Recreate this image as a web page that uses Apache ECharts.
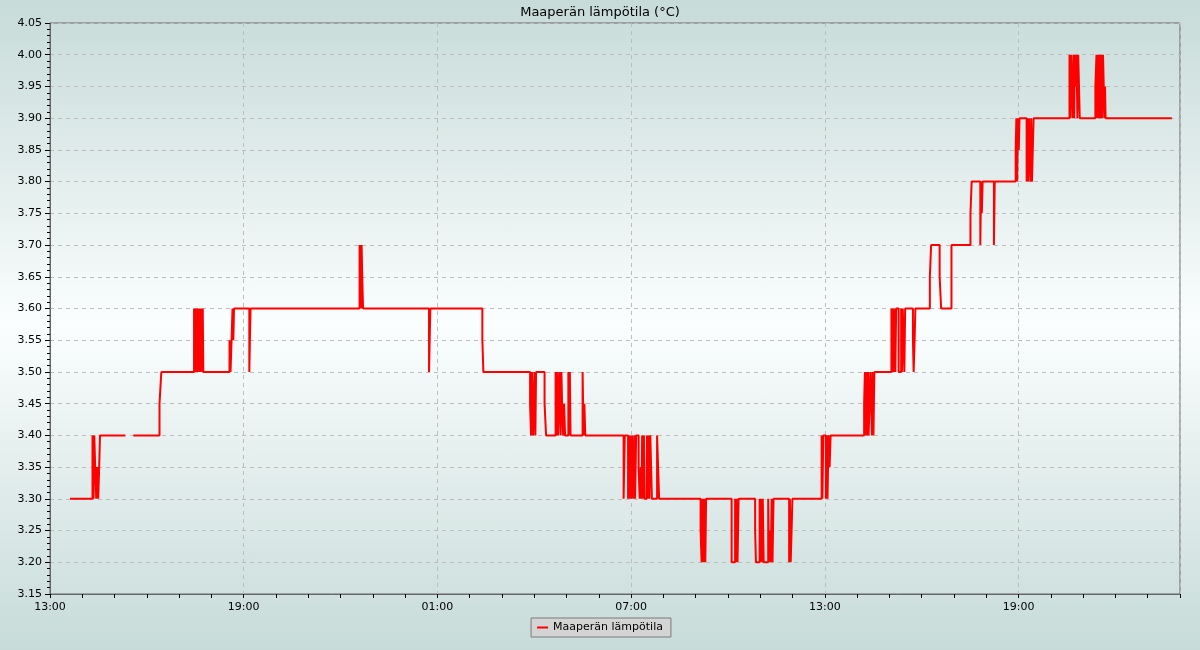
<!DOCTYPE html>
<html>
<head>
<meta charset="utf-8">
<script src="https://cdn.jsdelivr.net/npm/echarts@6/dist/echarts.min.js"></script>
<style>
html,body{margin:0;padding:0;}
#chart{width:1200px;height:650px;background:linear-gradient(to bottom,#c7dbd8 0%,#e3eeed 28%,#fbfefe 50%,#e3eeed 72%,#c7dbd8 100%);}
</style>
</head>
<body>
<div id="chart"></div>
<script>
// Time in minutes from 13:00 (day 1); step values in °C (null = missing data)
const startHour = 13;
const minutes = [
37.2,79.0,80.9,82.3,84.0,85.9,87.7,89.6,91.4,92.9,138.5,140,154.8,203.5,206.9,
267.7,268.6,269.5,270.4,271.3,272.2,273.1,274.0,274.9,275.8,276.7,277.6,278.5,279.4,280.3,281.2,282.1,283.0,283.9,284.9,
333.6,335.5,337.4,339.2,340.7,342.0,370.4,372.7,
575.3,576.3,577.2,578.2,579.1,580.3,581.8,704.4,706.8,803.5,805.4,
892.2,894.0,895.9,897.8,900.5,902.0,903.3,919.1,921.9,
939.6,941.4,942.9,944.2,947.0,948.9,950.4,951.7,953.5,955.4,957.2,
963.3,964.6,966.1,967.4,989.8,991.6,993.1,994.8,
1066.0,1068.2,1074.3,1075.8,1077.3,1078.8,1080.3,1081.8,1084.2,1085.9,1087.4,1089.3,
1093.9,1095.8,1098.1,1099.4,1100.4,1102.2,1103.7,1105.2,1109.3,1110.7,1112.4,1113.9,
1115.6,1117.1,1118.6,1128.2,1130.1,1132.0,
1209.1,1210.9,1212.8,1214.3,1216.1,1217.8,1219.3,
1266.7,1273.2,1274.7,1276.2,1277.7,1279.7,
1310.4,1311.9,1318.8,1320.3,1321.6,1323.1,1324.6,1326.3,
1334.7,1336.2,1337.7,1339.4,1341.2,1342.7,1344.6,
1373.6,1375.0,1376.5,1378.2,1379.7,
1434.0,1435.4,1437.1,1441.9,1443.4,1444.9,1446.9,1448.8,1450.7,
1513.0,1514.4,1515.9,1517.4,1518.9,1520.4,1521.3,1524.7,1526.0,1527.5,1528.8,1530.3,1532.0,
1563.7,1565.0,1566.5,1568.0,1569.5,1571.0,1572.5,1577.1,1581.8,1583.3,1584.8,1586.2,1587.7,1589.2,
1603.7,1605.0,1606.8,1608.2,
1635.1,1637.5,1653.3,1656.1,1675.3,1710.6,1712.8,
1728.9,1730.4,1731.7,1733.2,1754.2,1755.7,
1794.6,1795.9,1797.4,1798.9,1800.4,1801.7,
1815.0,1816.5,1817.8,1819.3,1820.6,1822.1,1823.4,1824.9,1826.4,1827.9,
1894.6,1895.9,1897.4,1898.9,1900.4,1901.8,1903.3,1904.4,1906.1,1907.6,1909.3,1910.8,1912.3,1913.7,
1942.7,1944.8,1946.4,1947.9,1949.4,1950.9,1952.2,1954.1,1955.5,1956.9,1958.3,1959.8,1960.7,1961.7,
2084.9
];
const temps = [
3.30,3.40,3.30,3.40,3.35,3.30,3.35,3.30,3.35,3.40,3.40,null,3.40,3.45,3.50,
3.60,3.50,3.60,3.50,3.60,3.50,3.60,3.50,3.60,3.50,3.60,3.50,3.60,3.50,3.60,3.50,3.60,3.50,3.60,3.50,
3.55,3.50,3.55,3.60,3.55,3.60,3.50,3.60,
3.70,3.60,3.70,3.60,3.70,3.65,3.60,3.50,3.60,3.55,3.50,
3.45,3.40,3.50,3.40,3.50,3.40,3.50,3.45,3.40,
3.50,3.40,3.50,3.40,3.50,3.40,3.50,3.45,3.40,3.45,3.40,
3.50,3.40,3.50,3.40,3.50,3.40,3.45,3.40,
3.30,3.40,3.30,3.40,3.30,3.40,3.30,3.40,3.30,3.40,3.30,3.40,
3.35,3.30,3.35,3.30,3.40,3.30,3.40,3.30,3.40,3.30,3.40,3.30,
3.40,3.35,3.30,3.40,3.35,3.30,
3.25,3.20,3.30,3.20,3.30,3.20,3.30,
3.20,3.30,3.20,3.30,3.20,3.30,
3.25,3.20,3.30,3.20,3.30,3.20,3.30,3.20,
3.30,3.20,3.25,3.20,3.30,3.20,3.30,
3.20,3.30,3.20,3.25,3.30,
3.40,3.30,3.40,3.30,3.40,3.30,3.40,3.35,3.40,
3.45,3.50,3.40,3.50,3.40,3.50,3.40,3.50,3.45,3.40,3.50,3.40,3.50,
3.60,3.50,3.60,3.50,3.60,3.50,3.60,3.50,3.60,3.50,3.60,3.55,3.50,3.60,
3.55,3.50,3.55,3.60,
3.65,3.70,3.65,3.60,3.70,3.75,3.80,
3.70,3.80,3.75,3.80,3.70,3.80,
3.85,3.90,3.80,3.90,3.85,3.90,
3.80,3.90,3.80,3.90,3.85,3.80,3.90,3.80,3.85,3.90,
4.00,3.90,4.00,3.95,3.90,4.00,3.90,4.00,3.95,4.00,3.90,4.00,3.95,3.90,
3.95,4.00,3.90,4.00,3.90,4.00,3.90,4.00,3.90,4.00,3.95,3.90,3.95,3.90,
3.90
];
const seriesName = 'Maaperän lämpötila';
const chartTitle = 'Maaperän lämpötila (°C)';
const yMin = 3.15, yMax = 4.05, yStep = 0.05;
const xMaxMinutes = 2100, xStepMinutes = 360;

const data = minutes.map((m, i) => [m, temps[i]]);
const font = 'DejaVu Sans';

function fmtTime(v) {
  const total = (startHour * 60 + Math.round(v)) % 1440;
  const h = Math.floor(total / 60), m = total % 60;
  return String(h).padStart(2, '0') + ':' + String(m).padStart(2, '0');
}

const chart = echarts.init(document.getElementById('chart'), null, {renderer: 'canvas'});
chart.setOption({
  backgroundColor: 'transparent',
  animation: false,
  title: {
    text: chartTitle, left: 'center', top: 1,
    textStyle: {fontFamily: font, fontSize: 13, fontWeight: 'normal', color: '#000'}
  },
  legend: {
    data: [seriesName], bottom: 13, left: 'center',
    backgroundColor: '#d4d4d4', borderColor: '#7a7a7a', borderWidth: 1,
    padding: [4, 8, 4, 6], icon: 'rect', itemWidth: 11, itemHeight: 2, itemGap: 8,
    textStyle: {fontFamily: font, fontSize: 11, color: '#000'}
  },
  grid: {
    left: 50, right: 20, top: 23, bottom: 56,
    show: true, borderColor: '#666', borderWidth: 1, backgroundColor: 'transparent'
  },
  xAxis: {
    type: 'value', min: 0, max: xMaxMinutes, interval: xStepMinutes,
    axisLine: {show: true, lineStyle: {color: '#666'}},
    axisTick: {show: true, length: 4, lineStyle: {color: '#000'}},
    minorTick: {show: true, splitNumber: 6, length: 4, lineStyle: {color: '#000'}},
    axisLabel: {formatter: fmtTime, fontFamily: font, fontSize: 11, color: '#000', margin: 8, showMaxLabel: false},
    splitLine: {show: true, lineStyle: {color: '#bdbdbd', type: [4, 4], width: 1}}
  },
  yAxis: {
    type: 'value', min: yMin, max: yMax, interval: yStep,
    axisLine: {show: true, lineStyle: {color: '#666'}},
    axisTick: {show: true, length: 5, lineStyle: {color: '#000'}},
    minorTick: {show: true, splitNumber: 5, length: 3, lineStyle: {color: '#000'}},
    axisLabel: {formatter: v => v.toFixed(2), fontFamily: font, fontSize: 11, color: '#000', margin: 8},
    splitLine: {show: true, lineStyle: {color: '#bdbdbd', type: [4, 4], width: 1}}
  },
  series: [{
    name: seriesName, type: 'line', step: 'end', data: data,
    showSymbol: false, symbol: 'none', connectNulls: false,
    lineStyle: {color: '#ff0000', width: 2}, itemStyle: {color: '#ff0000'}
  }]
});
</script>
</body>
</html>
